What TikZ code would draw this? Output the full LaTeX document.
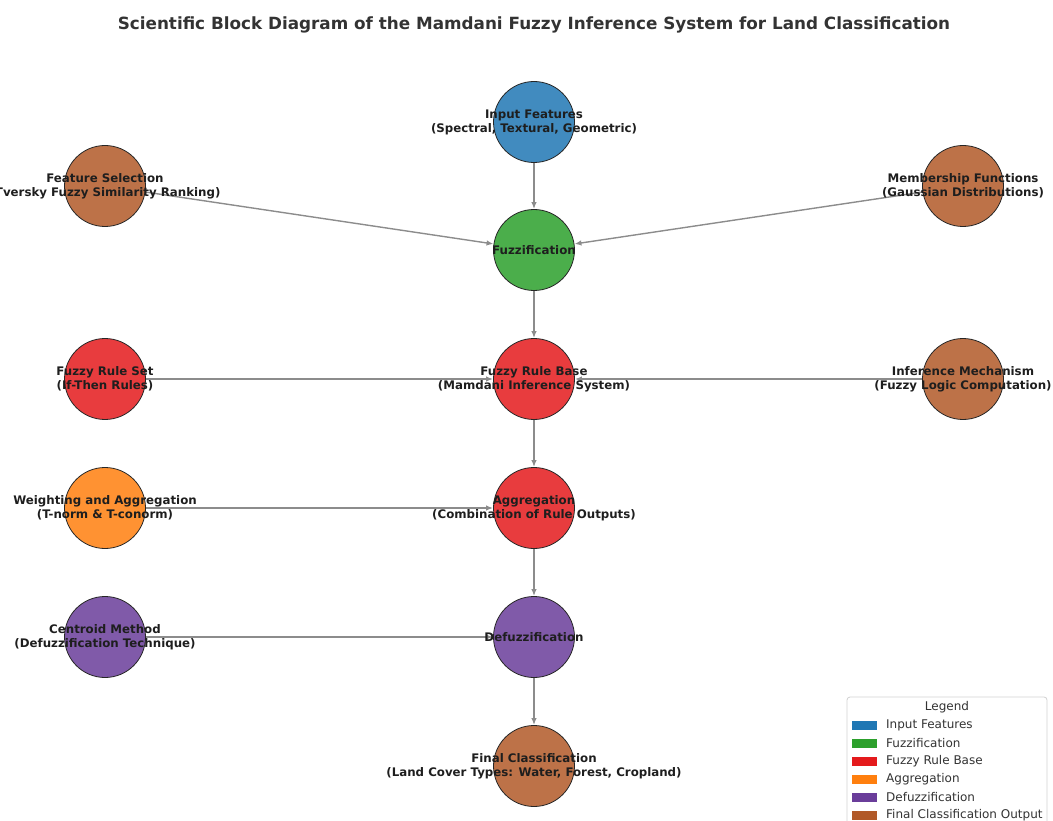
\documentclass[tikz,border=0pt]{standalone}
\usepackage{fontspec}
\setmainfont{DejaVu Sans}
\usetikzlibrary{arrows.meta}
\pgfdeclarelayer{background}
\pgfdeclarelayer{foreground}
\pgfsetlayers{background,main,foreground}
\definecolor{cblue}{HTML}{418BBF}
\definecolor{cgreen}{HTML}{4BAE4B}
\definecolor{cred}{HTML}{E83C3E}
\definecolor{corange}{HTML}{FF9232}
\definecolor{cpurple}{HTML}{805AA9}
\definecolor{cbrown}{HTML}{BD7248}
\definecolor{lblue}{HTML}{1F77B4}
\definecolor{lgreen}{HTML}{2CA02C}
\definecolor{lred}{HTML}{E41A1C}
\definecolor{lorange}{HTML}{FF7F0E}
\definecolor{lpurple}{HTML}{6A3D9A}
\definecolor{lbrown}{HTML}{B15928}
\definecolor{edgegray}{HTML}{8C8C8C}
\definecolor{txt}{HTML}{1E1E1E}
\definecolor{ttl}{HTML}{333333}
\tikzset{
  blob/.style={circle, draw=black!85, line width=0.8pt, minimum size=81pt, inner sep=0pt},
  lbl/.style={font=\bfseries\fontsize{11.8}{14}\selectfont, text=txt, align=center, inner sep=0pt},
  conn/.style={draw=edgegray, line width=1.4pt, -{Latex[length=7pt,width=5.5pt]}},
  patch/.style={minimum width=25pt, minimum height=9pt, inner sep=0pt},
  legtxt/.style={font=\fontsize{12}{14}\selectfont, text=ttl, anchor=west, inner sep=0pt}
}
\begin{document}
\begin{tikzpicture}[x=1pt,y=-1pt]
\useasboundingbox (0,0) rectangle (1053,821);
\clip (0,0) rectangle (1053,821);
\node[font=\bfseries\fontsize{16.8}{19}\selectfont, text=ttl] (title) at (534,25) {Scientific Block Diagram of the Mamdani Fuzzy Inference System for Land Classification};
% circles
\node[blob, fill=cblue] (inp) at (534,122) {};
\node[blob, fill=cbrown] (fs) at (105,186) {};
\node[blob, fill=cbrown] (mf) at (963,186) {};
\node[blob, fill=cgreen] (fz) at (534,250) {};
\node[blob, fill=cred] (rs) at (105,379) {};
\node[blob, fill=cred] (rb) at (534,379) {};
\node[blob, fill=cbrown] (im) at (963,379) {};
\node[blob, fill=corange] (wa) at (105,508) {};
\node[blob, fill=cred] (ag) at (534,508) {};
\node[blob, fill=cpurple] (cm) at (105,637) {};
\node[blob, fill=cpurple] (df) at (534,637) {};
\node[blob, fill=cbrown] (fc) at (534,766) {};
% edges
\begin{pgfonlayer}{background}
\draw[conn] (inp) -- (fz);
\draw[conn] (fs) -- (fz);
\draw[conn] (mf) -- (fz);
\draw[conn] (fz) -- (rb);
\draw[conn] (rs) -- (rb);
\draw[conn] (im) -- (rb);
\draw[conn] (rb) -- (ag);
\draw[conn] (wa) -- (ag);
\draw[conn] (ag) -- (df);
\draw[conn] (cm) -- (df);
\draw[conn] (df) -- (fc);
\end{pgfonlayer}
% labels
\begin{pgfonlayer}{foreground}
\node[lbl] (tinp) at (inp) {Input Features\\(Spectral, Textural, Geometric)};
\node[lbl] (tfs) at (fs) {Feature Selection\\(Tversky Fuzzy Similarity Ranking)};
\node[lbl] (tmf) at (mf) {Membership Functions\\(Gaussian Distributions)};
\node[lbl] (tfz) at (fz) {Fuzzification};
\node[lbl] (trs) at (rs) {Fuzzy Rule Set\\(If-Then Rules)};
\node[lbl] (trb) at (rb) {Fuzzy Rule Base\\(Mamdani Inference System)};
\node[lbl] (tim) at (im) {Inference Mechanism\\(Fuzzy Logic Computation)};
\node[lbl] (twa) at (wa) {Weighting and Aggregation\\(T-norm \& T-conorm)};
\node[lbl] (tag) at (ag) {Aggregation\\(Combination of Rule Outputs)};
\node[lbl] (tcm) at (cm) {Centroid Method\\(Defuzzification Technique)};
\node[lbl] (tdf) at (df) {Defuzzification};
\node[lbl] (tfc) at (fc) {Final Classification\\(Land Cover Types: Water, Forest, Cropland)};
% legend
\draw[draw=black!18, fill=white, fill opacity=0.85, rounded corners=3pt, line width=0.8pt] (847,697) rectangle (1047,840);
\node[font=\fontsize{12}{14}\selectfont, text=ttl] (lt) at (947,707) {Legend};
\node[patch, fill=lblue] (p1) at (864.5,725) {};
\node[legtxt] (l1) at (886,725) {Input Features};
\node[patch, fill=lgreen] (p2) at (864.5,743) {};
\node[legtxt] (l2) at (886,743) {Fuzzification};
\node[patch, fill=lred] (p3) at (864.5,761) {};
\node[legtxt] (l3) at (886,761) {Fuzzy Rule Base};
\node[patch, fill=lorange] (p4) at (864.5,779) {};
\node[legtxt] (l4) at (886,779) {Aggregation};
\node[patch, fill=lpurple] (p5) at (864.5,797) {};
\node[legtxt] (l5) at (886,797) {Defuzzification};
\node[patch, fill=lbrown] (p6) at (864.5,815) {};
\node[legtxt] (l6) at (886,815) {Final Classification Output};
\end{pgfonlayer}
\end{tikzpicture}
\end{document}
